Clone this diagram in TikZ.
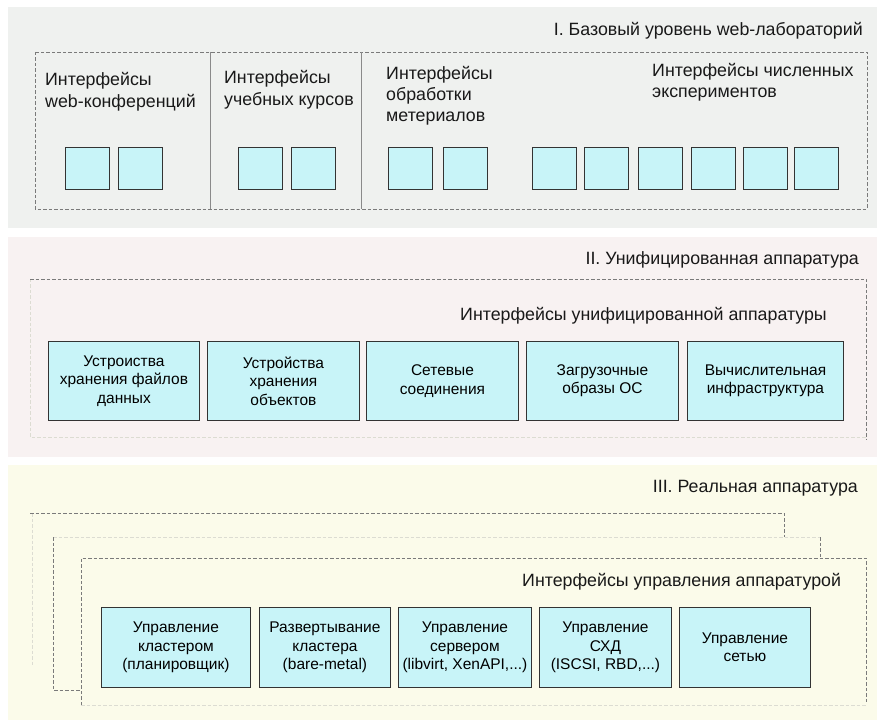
\documentclass[tikz,border=0pt]{standalone}
\usepackage{fontspec}
\setmainfont{Liberation Sans}
\definecolor{panelA}{HTML}{EFF1EF}
\definecolor{panelB}{HTML}{F8F2F2}
\definecolor{panelC}{HTML}{FBFBEA}
\definecolor{cellfill}{HTML}{C8F4F8}
\definecolor{dashgrey}{HTML}{7A7A7A}
\definecolor{faintgrey}{HTML}{DCDCD2}
\definecolor{rulegrey}{HTML}{8A8A8A}
\begin{document}
\begin{tikzpicture}[x=1pt,y=-1pt,
  dashline/.style={draw=dashgrey, line width=0.8pt, dash pattern=on 3.5pt off 2pt},
  faintline/.style={draw=faintgrey, line width=0.8pt, dash pattern=on 3.5pt off 2pt},
  level/.style={font=\fontsize{17.8}{21}\selectfont, anchor=base east, inner sep=0pt, text=black!90},
  % multi-line labels: the base anchor sits on the last line
  group/.style={font=\fontsize{17.8}{22}\selectfont, align=left, anchor=base west, inner sep=0pt, text=black!90},
  cell/.style={fill=cellfill, draw=black!80, line width=0.7pt, minimum width=44pt, minimum height=42pt, anchor=north west, inner sep=0pt},
  unit/.style={fill=cellfill, draw=black!80, line width=0.9pt, anchor=north west, inner sep=0pt,
    font=\fontsize{15.5}{18.5}\selectfont, align=center, text=black},
]
\useasboundingbox (0,0) rectangle (879,722);
\fill[white] (0,0) rectangle (879,722);

% level backgrounds
\fill[panelA] (8,7) rectangle (877,228);
\fill[panelB] (8,237) rectangle (877,457);
\fill[panelC] (8,465) rectangle (877,720);

% ---------- I. base level ----------
\draw[dashline] (35,52) rectangle (867,209);
\draw[rulegrey, line width=0.8pt] (210,52) -- (210,209);
\draw[rulegrey, line width=0.8pt] (361,52) -- (361,209);

\node[level] (t1) at (863,36) {I. Базовый уровень web-лабораторий};
\node[group] (g1) at (45,108) {Интерфейсы\\web-конференций};
\node[group] (g2) at (224,106) {Интерфейсы\\учебных курсов};
\node[group, font=\fontsize{17.8}{21}\selectfont] (g3) at (386,122) {Интерфейсы\\обработки\\метериалов};
\node[group, font=\fontsize{17.8}{21}\selectfont] (g4) at (652,98) {Интерфейсы численных\\экспериментов};

\foreach \x [count=\i] in {65,118,238,291,388,443,532,584,638,691,743,794}
  \node[cell] (c\i) at (\x,147) {};

% ---------- II. unified apparatus ----------
\draw[faintline] (30,279) -- (30,437) -- (866,437);
\draw[dashline] (30,279) -- (866,279) -- (866,440);

\node[level] (t2) at (859,265) {II. Унифицированная аппаратура};
\node[level, anchor=base west] (s2) at (460,320) {Интерфейсы унифицированной аппаратуры};

\node[unit, minimum width=151pt, minimum height=79pt] (u1) at (48,341) {Устроиства\\хранения файлов\\данных};
\node[unit, minimum width=152pt, minimum height=79pt] (u2) at (207,341) {Устройства\\хранения\\объектов};
\node[unit, minimum width=152pt, minimum height=79pt] (u3) at (366,341) {Сетевые\\соединения};
\node[unit, minimum width=152pt, minimum height=79pt] (u4) at (526,341) {Загрузочные\\образы ОС};
\node[unit, minimum width=156pt, minimum height=79pt] (u5) at (687,341) {Вычислительная\\инфраструктура};

% ---------- III. real apparatus ----------
% back frame
\draw[faintline] (32,513) -- (32,665);
\draw[dashline] (30,513) -- (784,513) -- (784,537);
% middle frame
\draw[faintline] (53,537) -- (820,537);
\draw[dashline] (820,537) -- (820,558);
\draw[dashline] (53,537) -- (53,690) -- (81,690);
% front frame
\draw[faintline] (81,705) -- (866,705);
\draw[dashline] (81,705) -- (81,558) -- (866,558) -- (866,703);

\node[level] (t3) at (858,492) {III. Реальная аппаратура};
\node[level, anchor=base west] (s3) at (522,586) {Интерфейсы управления аппаратурой};

\node[unit, minimum width=149pt, minimum height=80pt] (m1) at (101,607) {Управление\\кластером\\(планировщик)};
\node[unit, minimum width=131pt, minimum height=80pt] (m2) at (259,607) {Развертывание\\кластера\\(bare-metal)};
\node[unit, minimum width=133pt, minimum height=80pt] (m3) at (398,607) {Управление\\сервером\\(libvirt, XenAPI,...)};
\node[unit, minimum width=132pt, minimum height=80pt] (m4) at (539,607) {Управление\\СХД\\(ISCSI, RBD,...)};
\node[unit, minimum width=131pt, minimum height=80pt] (m5) at (679,607) {Управление\\сетью};
\end{tikzpicture}
\end{document}
